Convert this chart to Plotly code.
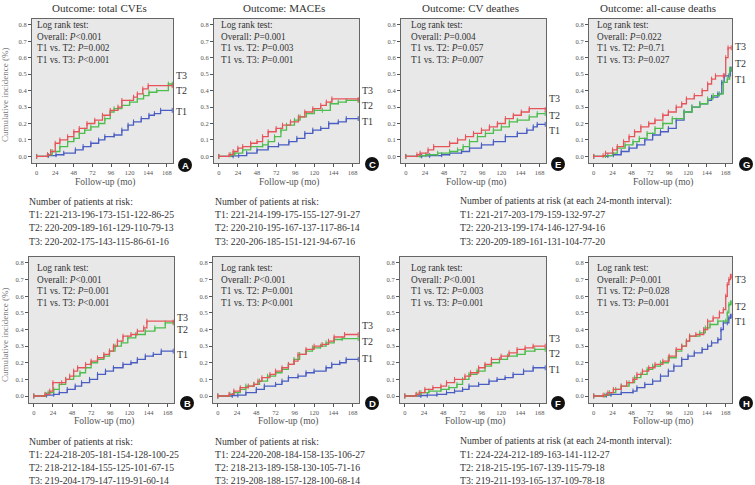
import plotly.graph_objects as go

W, H = 755, 485

# ---------------- data ----------------
titles = ["Outcome: total CVEs", "Outcome: MACEs", "Outcome: CV deathes", "Outcome: all-cause deaths"]
letters_top = ["A", "C", "E", "G"]
letters_bottom = ["B", "D", "F", "H"]
x_ticks = [0, 24, 48, 72, 96, 120, 144, 168]
y_ticks = [0.0, 0.1, 0.2, 0.3, 0.4, 0.5, 0.6, 0.7, 0.8]

# log-rank p values: overall, T1 vs T2, T1 vs T3
p_A = ["&lt;0.001", "=0.002", "&lt;0.001"]
p_C = ["=0.001", "=0.003", "=0.001"]
p_E = ["=0.004", "=0.057", "=0.007"]
p_G = ["=0.022", "=0.71", "=0.027"]
p_B = ["&lt;0.001", "=0.001", "&lt;0.001"]
p_D = ["&lt;0.001", "=0.001", "&lt;0.001"]
p_F = ["&lt;0.001", "=0.003", "=0.001"]
p_H = ["=0.001", "=0.028", "=0.001"]

# numbers at risk
risk_A_T1 = [221, 213, 196, 173, 151, 122, 86, 25]
risk_A_T2 = [220, 209, 189, 161, 129, 110, 79, 13]
risk_A_T3 = [220, 202, 175, 143, 115, 86, 61, 16]
risk_C_T1 = [221, 214, 199, 175, 155, 127, 91, 27]
risk_C_T2 = [220, 210, 195, 167, 137, 117, 86, 14]
risk_C_T3 = [220, 206, 185, 151, 121, 94, 67, 16]
risk_EG_T1 = [221, 217, 203, 179, 159, 132, 97, 27]
risk_EG_T2 = [220, 213, 199, 174, 146, 127, 94, 16]
risk_EG_T3 = [220, 209, 189, 161, 131, 104, 77, 20]
risk_B_T1 = [224, 218, 205, 181, 154, 128, 100, 25]
risk_B_T2 = [218, 212, 184, 155, 125, 101, 67, 15]
risk_B_T3 = [219, 204, 179, 147, 119, 91, 60, 14]
risk_D_T1 = [224, 220, 208, 184, 158, 135, 106, 27]
risk_D_T2 = [218, 213, 189, 158, 130, 105, 71, 16]
risk_D_T3 = [219, 208, 188, 157, 128, 100, 68, 14]
risk_FH_T1 = [224, 224, 212, 189, 163, 141, 112, 27]
risk_FH_T2 = [218, 215, 195, 167, 139, 115, 79, 18]
risk_FH_T3 = [219, 211, 193, 165, 137, 109, 78, 18]

# cumulative incidence curves: [time (mo), value]
A_T1 = [[0,0],[15,0.005],[25,0.01],[35,0.02],[50,0.04],[60,0.06],[70,0.08],[80,0.10],[88,0.12],[100,0.13],[110,0.16],[118,0.19],[125,0.21],[135,0.23],[145,0.25],[152,0.26],[160,0.28],[175,0.28]]
A_T2 = [[0,0],[14,0.01],[20,0.03],[30,0.06],[40,0.09],[48,0.11],[55,0.14],[62,0.16],[70,0.18],[80,0.20],[88,0.23],[95,0.27],[100,0.29],[110,0.31],[120,0.33],[130,0.35],[138,0.37],[145,0.39],[155,0.40],[170,0.44],[175,0.44]]
A_T3 = [[0,0],[14,0.01],[18,0.03],[24,0.08],[30,0.10],[40,0.12],[48,0.15],[55,0.17],[65,0.20],[75,0.22],[85,0.25],[95,0.28],[105,0.30],[110,0.34],[125,0.36],[130,0.38],[137,0.41],[144,0.43],[175,0.43]]

C_T1 = [[0,0],[18,0.003],[25,0.005],[35,0.02],[48,0.04],[62,0.06],[75,0.07],[88,0.09],[98,0.11],[108,0.14],[118,0.16],[128,0.17],[138,0.20],[150,0.21],[160,0.23],[175,0.23]]
C_T2 = [[0,0],[15,0.01],[20,0.02],[30,0.04],[40,0.06],[55,0.07],[62,0.09],[70,0.12],[78,0.16],[85,0.19],[95,0.22],[102,0.24],[110,0.26],[120,0.28],[130,0.28],[140,0.32],[150,0.33],[160,0.34],[175,0.34]]
C_T3 = [[0,0],[13,0.01],[18,0.03],[24,0.05],[30,0.06],[40,0.08],[48,0.09],[55,0.12],[62,0.15],[72,0.17],[80,0.19],[90,0.21],[100,0.24],[108,0.27],[118,0.29],[128,0.31],[135,0.33],[142,0.35],[175,0.345]]

E_T1 = [[0,0],[20,0.003],[30,0.005],[45,0.01],[55,0.02],[70,0.03],[80,0.05],[95,0.07],[110,0.09],[125,0.12],[140,0.14],[152,0.16],[160,0.18],[165,0.195],[175,0.195]]
E_T2 = [[0,0],[18,0.005],[25,0.01],[40,0.02],[55,0.03],[65,0.04],[72,0.06],[80,0.09],[90,0.12],[100,0.14],[110,0.16],[120,0.18],[130,0.21],[140,0.22],[155,0.24],[165,0.26],[175,0.26]]
E_T3 = [[0,0],[14,0.01],[18,0.02],[28,0.04],[35,0.06],[55,0.08],[65,0.10],[75,0.12],[85,0.14],[95,0.16],[105,0.18],[115,0.20],[125,0.23],[135,0.25],[145,0.27],[155,0.29],[175,0.285]]

G_T1 = [[0,0],[18,0.005],[25,0.01],[35,0.03],[45,0.05],[55,0.07],[65,0.10],[75,0.13],[85,0.15],[95,0.17],[105,0.22],[115,0.27],[125,0.30],[135,0.32],[145,0.34],[150,0.36],[158,0.38],[163,0.45],[166,0.49],[172,0.49],[174,0.53],[175,0.53]]
G_T2 = [[0,0],[15,0.005],[24,0.02],[30,0.05],[40,0.07],[50,0.09],[58,0.11],[68,0.14],[78,0.17],[88,0.20],[100,0.23],[115,0.27],[125,0.30],[135,0.32],[145,0.35],[152,0.37],[160,0.38],[165,0.45],[170,0.47],[173,0.53],[175,0.53]]
G_T3 = [[0,0],[12,0.005],[15,0.02],[24,0.04],[30,0.06],[38,0.09],[45,0.12],[52,0.15],[60,0.18],[70,0.20],[78,0.22],[88,0.25],[95,0.27],[105,0.30],[112,0.32],[118,0.35],[128,0.37],[138,0.40],[145,0.44],[150,0.47],[155,0.49],[165,0.49],[168,0.60],[171,0.66],[175,0.66]]

B_T1 = [[0,0],[16,0.005],[25,0.01],[32,0.02],[42,0.04],[52,0.06],[60,0.08],[70,0.10],[80,0.13],[90,0.15],[100,0.17],[112,0.19],[122,0.20],[130,0.22],[140,0.24],[150,0.25],[160,0.27],[175,0.27]]
B_T2 = [[0,0],[15,0.01],[18,0.02],[25,0.04],[32,0.07],[40,0.10],[50,0.12],[58,0.14],[65,0.17],[72,0.20],[80,0.22],[88,0.24],[95,0.27],[102,0.30],[110,0.32],[118,0.35],[128,0.37],[140,0.39],[152,0.41],[165,0.44],[175,0.44]]
B_T3 = [[0,0],[14,0.01],[20,0.03],[24,0.08],[35,0.08],[40,0.10],[45,0.12],[50,0.15],[55,0.17],[65,0.19],[72,0.21],[80,0.23],[88,0.25],[95,0.27],[100,0.30],[105,0.33],[112,0.36],[122,0.37],[130,0.39],[138,0.41],[142,0.45],[175,0.445]]

D_T1 = [[0,0],[18,0.003],[25,0.005],[35,0.02],[48,0.04],[58,0.06],[72,0.07],[80,0.09],[88,0.11],[100,0.12],[110,0.14],[120,0.15],[135,0.17],[142,0.19],[152,0.20],[160,0.22],[175,0.22]]
D_T2 = [[0,0],[15,0.01],[20,0.02],[28,0.04],[35,0.06],[45,0.07],[52,0.09],[62,0.12],[72,0.14],[80,0.16],[88,0.19],[95,0.22],[102,0.25],[110,0.27],[118,0.29],[128,0.30],[135,0.32],[145,0.34],[155,0.345],[175,0.345]]
D_T3 = [[0,0],[14,0.01],[20,0.03],[28,0.05],[38,0.06],[45,0.07],[50,0.09],[55,0.11],[65,0.13],[72,0.15],[80,0.17],[88,0.19],[95,0.21],[100,0.25],[110,0.28],[120,0.30],[130,0.31],[138,0.33],[145,0.355],[158,0.37],[175,0.37]]

F_T1 = [[0,0],[20,0.003],[28,0.005],[40,0.01],[52,0.02],[62,0.03],[72,0.04],[80,0.06],[92,0.07],[105,0.09],[115,0.10],[125,0.11],[135,0.13],[148,0.15],[160,0.17],[175,0.17]]
F_T2 = [[0,0],[15,0.01],[20,0.02],[30,0.03],[45,0.04],[55,0.05],[65,0.07],[72,0.10],[80,0.13],[90,0.15],[100,0.18],[108,0.20],[118,0.22],[128,0.24],[140,0.25],[150,0.27],[162,0.28],[175,0.28]]
F_T3 = [[0,0],[14,0.01],[18,0.02],[25,0.04],[35,0.05],[45,0.06],[52,0.08],[62,0.10],[75,0.12],[82,0.14],[92,0.17],[100,0.19],[108,0.22],[120,0.24],[130,0.26],[140,0.28],[150,0.29],[160,0.30],[175,0.30]]

H_T1 = [[0,0],[16,0.005],[22,0.01],[35,0.02],[50,0.03],[55,0.05],[65,0.07],[75,0.09],[85,0.12],[95,0.15],[102,0.18],[112,0.22],[120,0.24],[128,0.26],[138,0.28],[145,0.30],[150,0.32],[158,0.34],[162,0.40],[165,0.44],[170,0.44],[172,0.47],[174,0.48],[175,0.48]]
H_T2 = [[0,0],[14,0.005],[20,0.02],[28,0.04],[35,0.06],[45,0.08],[52,0.11],[60,0.13],[68,0.16],[75,0.18],[85,0.20],[95,0.23],[105,0.27],[112,0.30],[118,0.33],[122,0.36],[135,0.38],[142,0.41],[148,0.43],[158,0.45],[168,0.45],[170,0.50],[172,0.55],[174,0.56],[175,0.56]]
H_T3 = [[0,0],[12,0.005],[18,0.02],[25,0.04],[35,0.06],[42,0.08],[50,0.10],[55,0.13],[62,0.15],[70,0.17],[78,0.19],[88,0.21],[96,0.24],[105,0.28],[112,0.30],[118,0.33],[122,0.36],[130,0.37],[140,0.40],[145,0.45],[152,0.47],[160,0.50],[165,0.52],[168,0.60],[170,0.67],[172,0.70],[174,0.72],[175,0.72]]

# label heights (T3, T2, T1) at right edge of each panel
lab_A = [0.49, 0.40, 0.27]
lab_C = [0.40, 0.31, 0.21]
lab_E = [0.35, 0.25, 0.155]
lab_G = [0.665, 0.565, 0.47]
lab_B = [0.47, 0.40, 0.25]
lab_D = [0.425, 0.325, 0.227]
lab_F = [0.345, 0.253, 0.16]
lab_H = [0.70, 0.54, 0.45]

# ---------------- layout helpers ----------------
def px(x):
    return x / W

def py(y):
    return 1 - y / H

RED, GREEN, BLUE = "#E6545A", "#4DBD4D", "#4A5DC2"
SERIF = "Liberation Serif, Times New Roman, serif"
TXT = "#333333"

# boxes in pixels: (left, right, top, bottom)
boxes = [
    (32, 173, 19, 163), (214, 359, 19, 163), (401, 546, 19, 163), (589, 732, 19, 163),
    (29, 174, 257, 403), (213, 359, 257, 403), (400, 546, 257, 403), (589, 732, 257, 403),
]
curves = [
    (A_T1, A_T2, A_T3), (C_T1, C_T2, C_T3), (E_T1, E_T2, E_T3), (G_T1, G_T2, G_T3),
    (B_T1, B_T2, B_T3), (D_T1, D_T2, D_T3), (F_T1, F_T2, F_T3), (H_T1, H_T2, H_T3),
]
pvals = [p_A, p_C, p_E, p_G, p_B, p_D, p_F, p_H]
labs = [lab_A, lab_C, lab_E, lab_G, lab_B, lab_D, lab_F, lab_H]
letters = letters_top + letters_bottom
text_x = [35, 219, 409, 595, 35, 219, 409, 595]
circles = [(185, 165), (372, 164), (558, 164), (746, 164), (187, 403), (372, 403), (558, 403), (746, 403)]

fig = go.Figure()
annotations = []
shapes = []
layout = {}

for i in range(8):
    l, r, t, b = boxes[i]
    ax = "" if i == 0 else str(i + 1)
    top_row = i < 4
    yr = [-0.04, 0.835] if top_row else [-0.042, 0.836]
    layout["xaxis" + ax] = dict(
        domain=[px(l), px(r)], range=[-6, 176], anchor="y" + ax,
        tickvals=x_ticks, ticks="outside", ticklen=3, tickwidth=0.8, tickcolor="#555",
        showline=True, linecolor="#666", linewidth=1, mirror=True,
        showgrid=False, zeroline=False,
        tickfont=dict(family=SERIF, size=6.5, color="#555"),
    )
    layout["yaxis" + ax] = dict(
        domain=[py(b), py(t)], range=yr, anchor="x" + ax,
        tickvals=y_ticks, tickformat=".1f", ticks="outside", ticklen=3, tickwidth=0.8, tickcolor="#555",
        showline=True, linecolor="#666", linewidth=1, mirror=True,
        showgrid=False, zeroline=False,
        tickfont=dict(family=SERIF, size=6.5, color="#555"),
    )
    for data, col in zip(curves[i], (BLUE, GREEN, RED)):
        ts = [p[0] for p in data]
        vs = [p[1] for p in data]
        fig.add_trace(go.Scatter(
            x=ts, y=vs, xaxis="x" + ax, yaxis="y" + ax, mode="lines+markers",
            line=dict(color=col, width=1.3, shape="hv"),
            marker=dict(symbol="line-ns", size=3.5, line=dict(color=col, width=1)),
            showlegend=False, hoverinfo="skip", cliponaxis=False,
        ))
    # log rank text
    first = 25 if top_row else 268
    lines = ["Log rank test:",
             "Overall: <i>P</i>" + pvals[i][0],
             "T1 vs. T2: <i>P</i>" + pvals[i][1],
             "T1 vs. T3: <i>P</i>" + pvals[i][2]]
    for k, s in enumerate(lines):
        annotations.append(dict(
            text=s, xref="paper", yref="paper", x=px(text_x[i]), y=py(first + k * 11.6),
            xanchor="left", yanchor="middle", showarrow=False,
            font=dict(family=SERIF, size=9.3, color=TXT)))
    # T labels
    for name, yv in zip(["T3", "T2", "T1"], labs[i]):
        annotations.append(dict(
            text=name, xref="x" + ax + " domain", yref="y" + ax, x=1.005, y=yv,
            xanchor="left", yanchor="middle", showarrow=False,
            font=dict(family=SERIF, size=10, color=TXT)))
    # x axis title
    annotations.append(dict(
        text="Follow-up (mo)", xref="paper", yref="paper", x=px((l + r) / 2 + 2),
        y=py(182 if top_row else 421), xanchor="center", yanchor="middle", showarrow=False,
        font=dict(family=SERIF, size=9.5, color="#555")))
    # panel letter circle
    cx, cy = circles[i]
    shapes.append(dict(type="circle", xref="paper", yref="paper",
                       x0=px(cx - 7), x1=px(cx + 7), y0=py(cy + 7), y1=py(cy - 7),
                       fillcolor="#111111", line=dict(width=0)))
    annotations.append(dict(
        text="<b>" + letters[i] + "</b>", xref="paper", yref="paper", x=px(cx), y=py(cy),
        xanchor="center", yanchor="middle", showarrow=False,
        font=dict(family="Liberation Sans, Arial, sans-serif", size=9.5, color="white")))

# titles
for j, ttl in enumerate(titles):
    l, r, t, b = boxes[j]
    annotations.append(dict(
        text=ttl, xref="paper", yref="paper", x=px((l + r) / 2 - 3), y=py(8),
        xanchor="center", yanchor="middle", showarrow=False,
        font=dict(family=SERIF, size=11, color=TXT)))

# y axis titles
for yc in (95, 335):
    annotations.append(dict(
        text="Cumulative incidence (%)", xref="paper", yref="paper", x=px(5), y=py(yc),
        xanchor="center", yanchor="middle", textangle=-90, showarrow=False,
        font=dict(family=SERIF, size=9, color="#777")))

# risk tables
def risk_block(x, y0, header, r1, r2, r3, step):
    rows = [header,
            "T1: " + "-".join(str(v) for v in r1),
            "T2: " + "-".join(str(v) for v in r2),
            "T3: " + "-".join(str(v) for v in r3)]
    for k, s in enumerate(rows):
        annotations.append(dict(
            text=s, xref="paper", yref="paper", x=px(x), y=py(y0 + k * step),
            xanchor="left", yanchor="middle", showarrow=False,
            font=dict(family=SERIF, size=9.7, color=TXT)))

H1 = "Number of patients at risk:"
H2 = "Number of patients at risk (at each 24-month interval):"
risk_block(27, 201, H1, risk_A_T1, risk_A_T2, risk_A_T3, 13.4)
risk_block(213, 201, H1, risk_C_T1, risk_C_T2, risk_C_T3, 13.4)
risk_block(458, 201, H2, risk_EG_T1, risk_EG_T2, risk_EG_T3, 13.4)
risk_block(27, 441, H1, risk_B_T1, risk_B_T2, risk_B_T3, 13.3)
risk_block(213, 441, H1, risk_D_T1, risk_D_T2, risk_D_T3, 13.3)
risk_block(458, 441, H2, risk_FH_T1, risk_FH_T2, risk_FH_T3, 13.3)

fig.update_layout(
    width=W, height=H, margin=dict(l=0, r=0, t=0, b=0),
    paper_bgcolor="white", plot_bgcolor="#E8E8E8",
    annotations=annotations, shapes=shapes, **layout,
)
fig.write_html("out.html", config={"displayModeBar": False},
               post_script="document.body.style.margin='0';document.body.style.overflow='hidden';")
